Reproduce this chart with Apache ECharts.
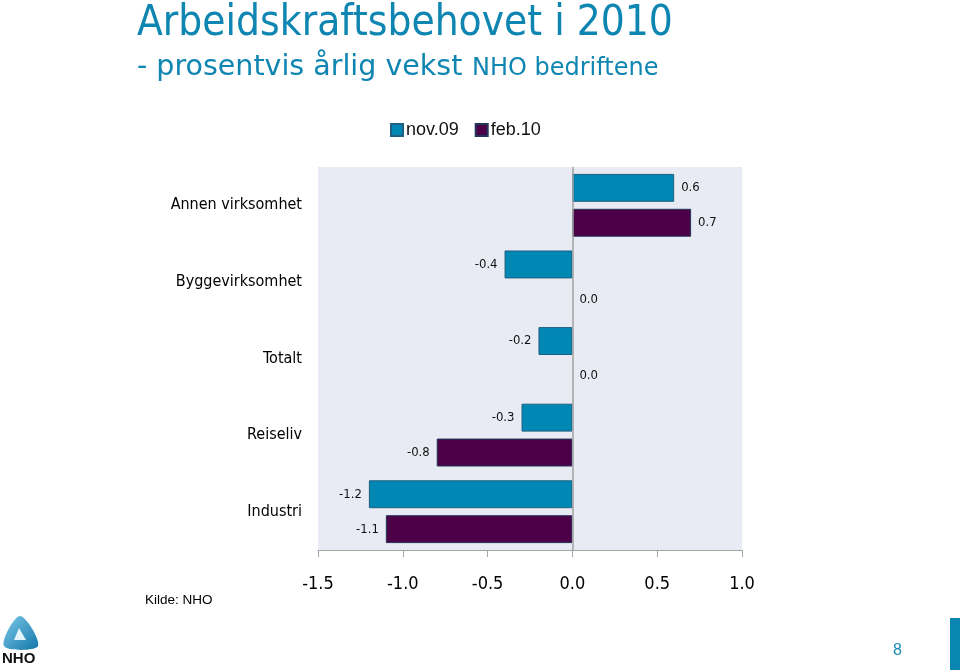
<!DOCTYPE html>
<html>
<head>
<meta charset="utf-8">
<script src="https://cdn.jsdelivr.net/npm/echarts@6/dist/echarts.min.js"></script>
<style>
html,body{margin:0;padding:0;background:#fff;}
#chart{width:960px;height:670px;}
</style>
</head>
<body>
<div id="chart"></div>
<script>
var categories = ['Annen virksomhet', 'Byggevirksomhet', 'Totalt', 'Reiseliv', 'Industri'];
var seriesNames = ['nov.09', 'feb.10'];
var nov09 = [0.6, -0.4, -0.2, -0.3, -1.2];
var feb10 = [0.7, 0.0, 0.0, -0.8, -1.1];
var xTicks = [-1.5, -1.0, -0.5, 0.0, 0.5, 1.0];

var COND = '"DejaVu Sans Condensed", "DejaVu Sans", sans-serif';
var NORM = '"DejaVu Sans", sans-serif';
var chart = echarts.init(document.getElementById('chart'));

function items(arr) {
  return arr.map(function (v) {
    var it = { value: v, label: { position: v < 0 ? 'left' : 'right' } };
    if (v === 0) { it.itemStyle = { borderWidth: 0 }; }
    return it;
  });
}

var barLabel = {
  show: true,
  distance: 7,
  color: '#111',
  fontFamily: COND,
  fontSize: 13,
  formatter: function (p) { return p.value.toFixed(1); }
};

chart.setOption({
  backgroundColor: '#ffffff',
  animation: false,
  legend: {
    left: 385,
    top: 116,
    itemWidth: 12,
    itemHeight: 12,
    itemGap: 16,
    icon: 'rect',
    textStyle: { fontFamily: '"Liberation Sans", Arial, sans-serif', fontSize: 18, color: '#111', padding: [0, 0, 0, -2] },
    data: seriesNames
  },
  grid: {
    left: 318, right: 218, top: 167, bottom: 120,
    show: true, backgroundColor: '#e8ebf3', borderWidth: 0
  },
  xAxis: {
    type: 'value',
    min: xTicks[0],
    max: xTicks[xTicks.length - 1],
    interval: 0.5,
    splitLine: { show: false },
    axisLine: { show: true, onZero: false, lineStyle: { color: '#a6a6a6', width: 1 } },
    axisTick: { show: true, length: 7, lineStyle: { color: '#a6a6a6' } },
    axisLabel: {
      color: '#000', fontFamily: COND, fontSize: 18, margin: 25,
      formatter: function (v) { return v.toFixed(1); }
    }
  },
  yAxis: {
    type: 'category',
    inverse: true,
    data: categories,
    axisLine: { show: false },
    axisTick: { show: false },
    axisLabel: { color: '#000', fontFamily: COND, fontSize: 16, margin: 16 }
  },
  series: [
    {
      name: seriesNames[0], type: 'bar', data: items(nov09),
      barGap: '25%', barCategoryGap: '18%',
      itemStyle: { color: '#0087b3', borderColor: '#1f5f7f', borderWidth: 1 },
      label: barLabel,
      markLine: {
        silent: true, symbol: 'none', label: { show: false },
        lineStyle: { color: '#a0a0a0', type: 'solid', width: 1.5 },
        data: [{ xAxis: 0 }]
      }
    },
    {
      name: seriesNames[1], type: 'bar', data: items(feb10),
      barGap: '25%', barCategoryGap: '18%',
      itemStyle: { color: '#4b0047', borderColor: '#24355a', borderWidth: 1 },
      label: barLabel
    }
  ],
  graphic: [
    { type: 'text', left: 137, top: 3,
      style: { text: 'Arbeidskraftsbehovet i 2010', fill: '#0f86b2', font: '42px ' + COND } },
    { type: 'text', left: 137, top: 53,
      style: { text: '- prosentvis årlig vekst', fill: '#0f86b2', font: '28.5px ' + NORM } },
    { type: 'text', left: 472, top: 57,
      style: { text: 'NHO bedriftene', fill: '#0f86b2', font: '24px ' + NORM } },
    { type: 'text', left: 145, top: 593,
      style: { text: 'Kilde: NHO', fill: '#000', font: '13.5px "Liberation Sans", Arial, sans-serif' } },
    { type: 'text', left: 893, top: 643,
      style: { text: '8', fill: '#1a8ab5', font: '16px "Liberation Sans", Arial, sans-serif' } },
    { type: 'rect', shape: { x: 950, y: 618, width: 10, height: 52 }, style: { fill: '#0a86b2' } },
    { type: 'polygon', shape: { points: [[20, 616], [4, 646], [38, 646]], smooth: 0.35 },
      style: { fill: new echarts.graphic.LinearGradient(0, 0, 1, 1, [
        { offset: 0, color: '#7cc8e8' }, { offset: 1, color: '#1277a8' }]) } },
    { type: 'polygon', shape: { points: [[19, 628], [14, 640], [26, 640]] },
      style: { fill: '#e6f4fb' } },
    { type: 'text', left: 2, top: 651,
      style: { text: 'NHO', fill: '#111', font: 'bold 15px "Liberation Sans", Arial, sans-serif' } }
  ]
});
</script>
</body>
</html>
